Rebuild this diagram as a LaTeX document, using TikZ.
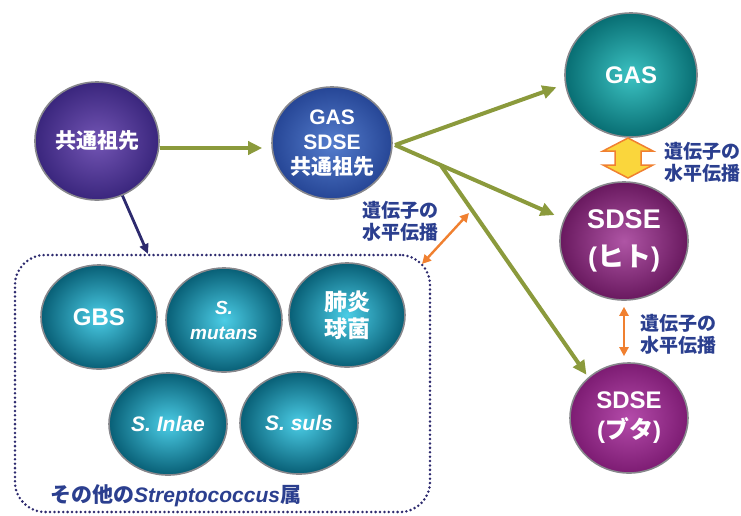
\documentclass[tikz,border=0pt]{standalone}
\usepackage{fontspec}
\setmainfont{Liberation Sans}
\newfontfamily\jp{Noto Sans CJK JP}
\usetikzlibrary{arrows.meta,shapes.geometric,calc}
\definecolor{olive}{RGB}{139,154,60}
\definecolor{navyln}{RGB}{45,42,110}
\definecolor{orng}{RGB}{240,128,48}
\definecolor{labblue}{RGB}{43,63,143}
\definecolor{rimgray}{RGB}{135,135,140}
\tikzset{
  ball/.style={ellipse, draw=rimgray, line width=1.6pt, text=white, align=center, inner sep=0pt, font=\bfseries},
  tealball/.style={ball, inner color={rgb,255:red,75;green,205;blue,230}, outer color={rgb,255:red,8;green,95;blue,118}, minimum width=116pt, minimum height=104pt},
  olivearrow/.style={draw=olive, line width=4pt, -{Triangle[length=14pt,width=13pt]}},
  orangearrow/.style={draw=orng, line width=2.4pt, {Triangle[length=9pt,width=9pt]}-{Triangle[length=9pt,width=9pt]}},
  navyarrow/.style={draw=navyln, line width=2.8pt, -{Triangle[length=10pt,width=9pt]}},
  hgtlabel/.style={text=labblue, font=\jp\bfseries\fontsize{19}{22}\selectfont, align=left, anchor=west, inner sep=0pt},
  groupbox/.style={draw=navyln, line width=2.8pt, dash pattern=on 0pt off 4.4pt, line cap=round, rounded corners=30pt}
}
\begin{document}
\begin{tikzpicture}[x=1pt,y=-1pt]
\useasboundingbox (0,0) rectangle (741,515);

% group box
\node[groupbox, minimum width=415pt, minimum height=257pt] (box) at (222.5,383.5) {};

% main balls
\node[ball, minimum width=124pt, minimum height=118pt,
      inner color={rgb,255:red,115;green,85;blue,180}, outer color={rgb,255:red,58;green,38;blue,125},
      font=\jp\bfseries\fontsize{21}{25}\selectfont] (anc) at (97,141) {共通祖先};
\node[ball, minimum width=120pt, minimum height=112pt,
      inner color={rgb,255:red,85;green,125;blue,205}, outer color={rgb,255:red,38;green,70;blue,150},
      font=\bfseries\fontsize{21}{25}\selectfont] (gs) at (332,143) {GAS\\SDSE\\{\jp 共通祖先}};
\node[ball, minimum width=132pt, minimum height=124pt,
      inner color={rgb,255:red,60;green,195;blue,195}, outer color={rgb,255:red,8;green,110;blue,115},
      font=\bfseries\fontsize{24}{28}\selectfont] (gas) at (631,75) {GAS};
\node[ball, minimum width=128pt, minimum height=118pt,
      inner color={rgb,255:red,175;green,85;blue,165}, outer color={rgb,255:red,105;green,25;blue,95},
      font=\bfseries\fontsize{27}{38}\selectfont] (sh) at (624,241) {SDSE\\({\jp ヒト})};
\node[ball, minimum width=118pt, minimum height=110pt,
      inner color={rgb,255:red,180;green,75;blue,170}, outer color={rgb,255:red,125;green,28;blue,115},
      font=\bfseries\fontsize{24}{30}\selectfont] (sb) at (629,418) {SDSE\\({\jp ブタ})};

% other streptococci
\node[tealball, font=\bfseries\fontsize{24}{28}\selectfont] (gbs) at (99,317) {GBS};
\node[tealball, font=\bfseries\itshape\fontsize{19}{25}\selectfont] (mut) at (224,320) {S.\\mutans};
\node[tealball, font=\jp\bfseries\fontsize{23}{27}\selectfont] (pn) at (347,315) {肺炎\\球菌};
\node[tealball, minimum width=118pt, minimum height=102pt, font=\bfseries\itshape\fontsize{21}{25}\selectfont] (inl) at (168,424) {S. Inlae};
\node[tealball, minimum width=118pt, minimum height=102pt, font=\bfseries\itshape\fontsize{21}{25}\selectfont] (sui) at (299,423) {S. suls};

\node[text=labblue, font=\bfseries\fontsize{21}{25}\selectfont, anchor=west, inner sep=0pt] (grp) at (50,496)
  {{\jp その他の}\textit{Streptococcus}{\jp 属}};

% arrows
\coordinate (bt) at (148,254);
\draw[navyarrow] (anc.-65) -- (bt);
\draw[olivearrow, shorten >=9pt] ([yshift=-7pt]anc.east) -- ([yshift=-7pt]anc.east -| gs.west);
\coordinate (hub) at (395,145);
\draw[olivearrow, shorten >=9pt] (hub) -- (gas.188);
\draw[olivearrow, shorten >=10pt] (hub) -- (sh.160);
\coordinate (br) at ($(hub)!0.27!(sh.160)$);
\draw[olivearrow, shorten >=3pt] (br) -- (sb.135);

% horizontal gene transfer arrows
\coordinate (h1) at (422,264);
\coordinate (h2) at (469,213);
\draw[orangearrow] (h1) -- (h2);
\draw[orangearrow, shorten <=6pt, shorten >=6pt] (sh.south) -- (sh.south |- sb.north);

\coordinate (ya) at (628,158);
\draw[draw=orng, fill={rgb,255:red,250;green,214;blue,60}, line width=1.5pt, line join=miter]
  ($(ya)+(0,-20)$) -- ($(ya)+(25,-7)$) -- ($(ya)+(13,-7)$) -- ($(ya)+(13,7)$) -- ($(ya)+(25,7)$)
  -- ($(ya)+(0,20)$) -- ($(ya)+(-25,7)$) -- ($(ya)+(-13,7)$) -- ($(ya)+(-13,-7)$) -- ($(ya)+(-25,-7)$) -- cycle;

\node[hgtlabel] (lab1) at (664,162) {遺伝子の\\水平伝播};
\node[hgtlabel] (lab2) at (362,221) {遺伝子の\\水平伝播};
\node[hgtlabel] (lab3) at (640,334) {遺伝子の\\水平伝播};
\end{tikzpicture}
\end{document}
